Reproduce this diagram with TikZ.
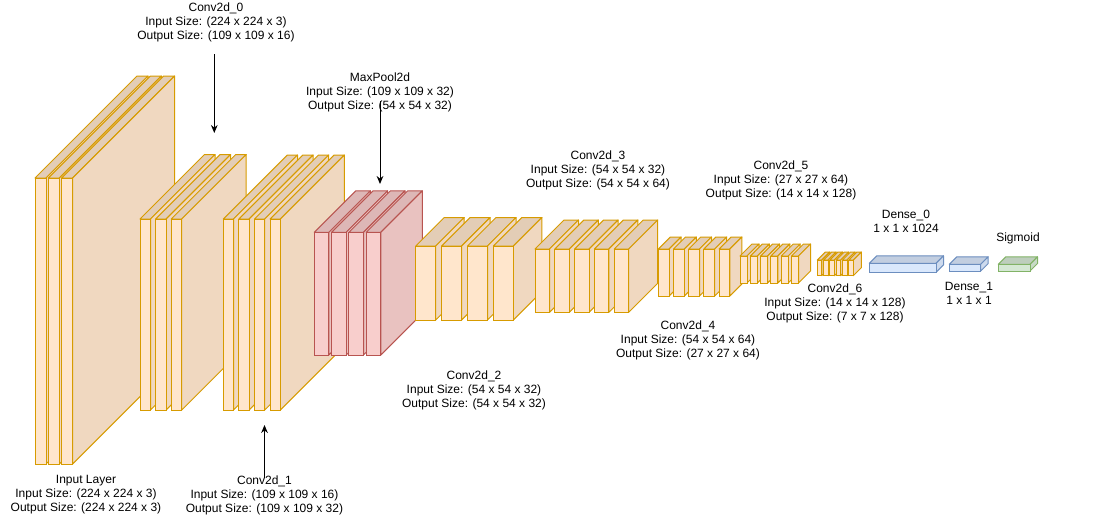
\documentclass[tikz,border=0pt]{standalone}
\usepackage{fontspec}
\setmainfont{Liberation Sans}
\usetikzlibrary{arrows.meta}

\definecolor{orgfront}{HTML}{FFE6CC}
\colorlet{orgside}{orgfront!94!black}
\colorlet{orgtop}{orgfront!89!black}
\definecolor{orgline}{HTML}{D79B00}
\definecolor{redfront}{HTML}{F8CECC}
\colorlet{redside}{redfront!94!black}
\colorlet{redtop}{redfront!89!black}
\definecolor{redline}{HTML}{B85450}
\definecolor{bluefront}{HTML}{DAE8FC}
\colorlet{blueside}{bluefront!94!black}
\colorlet{bluetop}{bluefront!89!black}
\definecolor{blueline}{HTML}{6C8EBF}
\definecolor{grnfront}{HTML}{D5E8D4}
\colorlet{grnside}{grnfront!94!black}
\colorlet{grntop}{grnfront!89!black}
\definecolor{grnline}{HTML}{82B366}

% #1 left, #2 top, #3 width, #4 bottom, #5 depth, #6 colour set
\newcommand{\layerslab}[6]{%
\filldraw[fill=#6top,draw=#6line,line width=0.75pt,line join=round] ({#1},{#2}) -- ++({#5},{-(#5)}) -- ++({#3},0) -- ++({-(#5)},{#5}) -- cycle;
\filldraw[fill=#6side,draw=#6line,line width=0.75pt,line join=round] ({#1+#3},{#2}) -- ++({#5},{-(#5)}) -- ({#1+#3+#5},{#4-#5}) -- ({#1+#3},{#4}) -- cycle;
\filldraw[fill=#6front,draw=#6line,line width=0.75pt] ({#1},{#2}) rectangle ({#1+#3},{#4});
}

\tikzset{
  lbl/.style={align=center,inner sep=0pt,font=\fontsize{9}{10.5}\selectfont},
  arr/.style={-{Stealth[length=6pt,width=5pt]},line width=0.75pt}
}

\begin{document}
\begin{tikzpicture}[x=0.75pt,y=-0.75pt]
\fill[white] (0,0) rectangle (1104,515);
\useasboundingbox (0,0) rectangle (1104,515);

\foreach \i in {0,1,2}{\layerslab{35+13.3*\i}{178}{11}{464}{102}{org}}
\foreach \i in {0,1,2}{\layerslab{140+15.6*\i}{219}{10.5}{410}{64.5}{org}}
\foreach \i in {0,...,3}{\layerslab{223.3+15.6*\i}{219}{10.2}{410}{64}{org}}
\foreach \i in {0,...,3}{\layerslab{314.3+17.3*\i}{232.3}{14.6}{355}{41.5}{red}}
\foreach \i in {0,...,3}{\layerslab{415.7+25.9*\i}{246}{20}{320}{28.5}{org}}
\foreach \i in {0,...,4}{\layerslab{535+19.8*\i}{249}{14.5}{312.3}{29}{org}}
\foreach \i in {0,...,4}{\layerslab{658.3+15.2*\i}{249}{10.8}{296}{12}{org}}
\foreach \i in {0,...,5}{\layerslab{740+10.3*\i}{256}{7}{283}{12}{org}}
\foreach \i in {0,...,5}{\layerslab{817.3+6.3*\i}{260}{4.5}{275.7}{8}{org}}
\layerslab{869.3}{263.3}{66.7}{272.3}{7.5}{blue}
\layerslab{949.3}{264.3}{31.4}{271}{7.5}{blue}
\layerslab{998.3}{264.3}{31.7}{271}{7.5}{grn}

\node[lbl] (inlbl) at (86,495) {Input Layer\\Input Size: (224 x 224 x 3)\\Output Size: (224 x 224 x 3)};
\node[lbl] (c0lbl) at (216,22) {Conv2d\_0\\Input Size: (224 x 224 x 3)\\Output Size: (109 x 109 x 16)};
\node[lbl] (c1lbl) at (264.5,495) {Conv2d\_1\\Input Size: (109 x 109 x 16)\\Output Size: (109 x 109 x 32)};
\node[lbl] (mplbl) at (380,92) {MaxPool2d\\Input Size: (109 x 109 x 32)\\Output Size: (54 x 54 x 32)};
\node[lbl] (c2lbl) at (474,390) {Conv2d\_2\\Input Size: (54 x 54 x 32)\\Output Size: (54 x 54 x 32)};
\node[lbl] (c3lbl) at (598,170) {Conv2d\_3\\Input Size: (54 x 54 x 32)\\Output Size: (54 x 54 x 64)};
\node[lbl] (c4lbl) at (688,340) {Conv2d\_4\\Input Size: (54 x 54 x 64)\\Output Size: (27 x 27 x 64)};
\node[lbl] (c5lbl) at (781,180) {Conv2d\_5\\Input Size: (27 x 27 x 64)\\Output Size: (14 x 14 x 128)};
\node[lbl] (c6lbl) at (835,303) {Conv2d\_6\\Input Size: (14 x 14 x 128)\\Output Size: (7 x 7 x 128)};
\node[lbl] (d0lbl) at (906,221) {Dense\_0\\1 x 1 x 1024};
\node[lbl] (d1lbl) at (969,293) {Dense\_1\\1 x 1 x 1};
\node[lbl] (sglbl) at (1018,238) {Sigmoid};

\coordinate (c0from) at (214.3,54);
\coordinate (c0to) at (214.3,133);
\coordinate (mpfrom) at (380,101);
\coordinate (mpto) at (380,184);
\coordinate (c1from) at (264.5,478);
\coordinate (c1to) at (264.5,425);
\draw[arr] (c0from) -- (c0to);
\draw[arr] (mpfrom) -- (mpto);
\draw[arr] (c1from) -- (c1to);
\end{tikzpicture}
\end{document}
